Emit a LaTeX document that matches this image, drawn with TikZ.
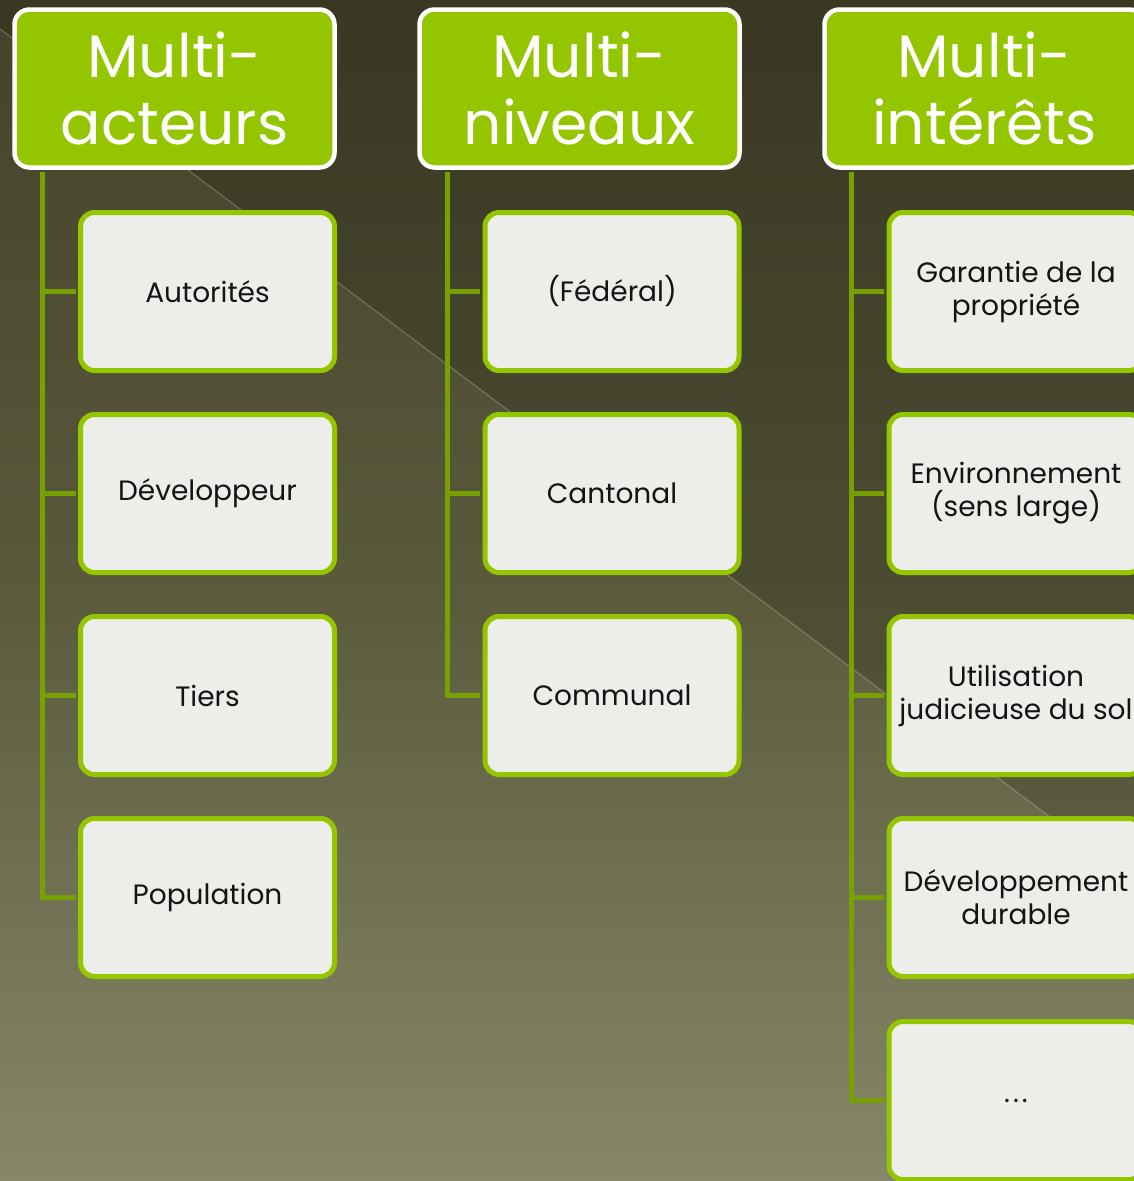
\documentclass[tikz,border=0pt]{standalone}
\usepackage{fontspec}
\setmainfont{Poppins}
\usetikzlibrary{calc}
\definecolor{hdrgreen}{HTML}{94C600}
\definecolor{lnkgreen}{HTML}{76A100}
\definecolor{boxfill}{HTML}{EDEDE9}
\definecolor{bgtop}{HTML}{44422A}
\definecolor{bgmid}{HTML}{5A5A3C}
\definecolor{bgbot}{HTML}{878769}
\begin{document}
\begin{tikzpicture}[x=1pt,y=-1pt,
  hdr/.style={draw=white, line width=4.5pt, fill=hdrgreen, rounded corners=15pt,
    minimum width=320pt, minimum height=158pt, text=white, align=center,
    font=\fontsize{60}{67}\selectfont, inner sep=0pt},
  item/.style={draw=hdrgreen, line width=5pt, fill=boxfill, rounded corners=14pt,
    minimum width=254pt, minimum height=158pt, align=center,
    font=\fontsize{28}{33}\selectfont, text=black!92, inner sep=0pt},
  link/.style={draw=lnkgreen, line width=5pt}]
\useasboundingbox (0,0) rectangle (1134,1181);
\begin{scope}
\clip (0,0) rectangle (1134,1181);
% background: banded vertical gradient
\foreach \i in {0,...,58}{
  \pgfmathsetmacro{\p}{100-\i*100/59}
  \fill[bgtop!\p!bgmid] (0,{\i*10}) rectangle (1134,{\i*10+11});
}
\foreach \i in {0,...,59}{
  \pgfmathsetmacro{\p}{100-\i*100/59}
  \fill[bgmid!\p!bgbot] (0,{590+\i*10}) rectangle (1134,{590+\i*10+11});
}
\fill[black, opacity=0.15] (0,0) -- (0,29) -- (1134,880) -- (1134,0) -- cycle;
\draw[white, opacity=0.25, line width=1pt] (0,29) -- (1134,880);

% headers
\node[hdr] (h1) at (174.5,88.5) {Multi-\\acteurs};
\node[hdr] (h2) at (579.5,88.5) {Multi-\\niveaux};
\node[hdr] (h3) at (984.5,88.5) {Multi-\\intérêts};

% column 1
\node[item] (a1) at (207.5,291.5) {Autorités};
\node[item] (a2) at (207.5,493.5) {Développeur};
\node[item] (a3) at (207.5,695.5) {Tiers};
\node[item] (a4) at (207.5,897.5) {Population};

% column 2
\node[item] (b1) at (612,291.5) {(Fédéral)};
\node[item] (b2) at (612,493.5) {Cantonal};
\node[item] (b3) at (612,695.5) {Communal};

% column 3
\node[item] (c1) at (1016,291.5) {Garantie de la\\propriété};
\node[item] (c2) at (1016,493.5) {Environnement\\(sens large)};
\node[item] (c3) at (1016,695.5) {Utilisation\\judicieuse du sol};
\node[item] (c4) at (1016,897.5) {Développement\\durable};
\node[item] (c5) at (1016,1100.5) {.\kern3pt.\kern3pt.};

% connectors
\foreach \c in {a1,a2,a3,a4}
  \draw[link] ($(h1.south west)+(30.5,2.5)$) |- ($(\c.west)+(-2.5,0)$);
\foreach \c in {b1,b2,b3}
  \draw[link] ($(h2.south west)+(30.5,2.5)$) |- ($(\c.west)+(-2.5,0)$);
\foreach \c in {c1,c2,c3,c4,c5}
  \draw[link] ($(h3.south west)+(29.5,2.5)$) |- ($(\c.west)+(-2.5,0)$);
\end{scope}
\end{tikzpicture}
\end{document}
